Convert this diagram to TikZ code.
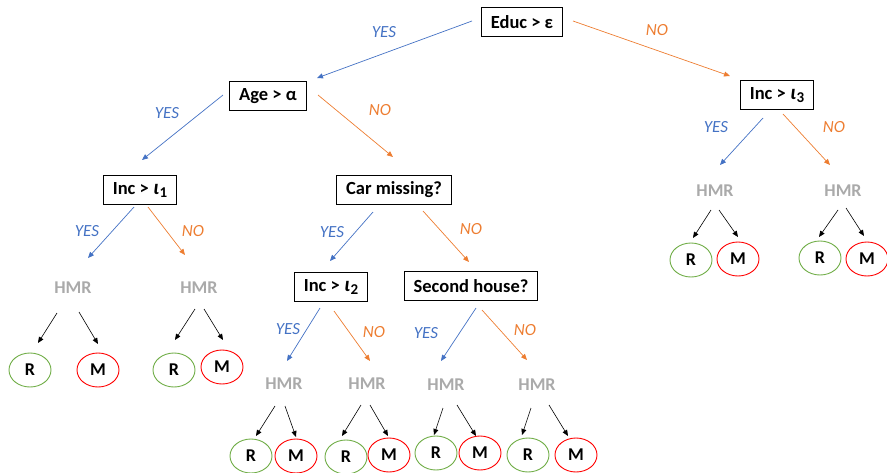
\documentclass[tikz,border=0pt]{standalone}
\usepackage{fontspec}
\setmainfont{Carlito}
\usetikzlibrary{arrows.meta,calc,shapes.geometric}
\definecolor{yesblue}{RGB}{68,114,196}
\definecolor{noorange}{RGB}{237,125,49}
\definecolor{hmrgray}{RGB}{170,170,170}
\definecolor{rgreen}{RGB}{112,173,71}
\definecolor{mred}{RGB}{255,0,0}
\newcommand{\subi}[1]{{\fontsize{21}{21}\selectfont\itshape ι}\kern0.5pt\raisebox{-0.4ex}{\fontsize{15}{15}\selectfont #1}}
\begin{document}
\begin{tikzpicture}[x=1pt,y=-1pt,
  base/.style={font=\fontsize{18}{20}\selectfont},
  testbox/.style={base,draw,line width=1.1pt,inner xsep=9.5pt,inner ysep=0pt,minimum height=29pt,font=\fontsize{18.5}{20}\selectfont\bfseries},
  hmr/.style={text=hmrgray,inner sep=0pt,font=\fontsize{18}{20}\selectfont\bfseries},
  leaf/.style={ellipse,draw,line width=0.9pt,minimum width=42pt,minimum height=34pt,inner sep=0pt,font=\fontsize{18}{20}\selectfont\bfseries},
  leafR/.style={leaf,draw=rgreen},
  leafM/.style={leaf,draw=mred},
  yeslab/.style={text=yesblue,inner sep=0pt,font=\fontsize{17}{20}\selectfont\itshape},
  nolab/.style={text=noorange,inner sep=0pt,font=\fontsize{17}{20}\selectfont\itshape},
  yesarr/.style={draw=yesblue,line width=0.7pt,-{Triangle[length=6pt,width=5pt]}},
  noarr/.style={draw=noorange,line width=0.7pt,-{Triangle[length=6pt,width=5pt]}},
  leafarr/.style={draw=black,line width=0.6pt,-{Triangle[length=6pt,width=5pt]}}
]
\useasboundingbox (0,0) rectangle (887,472);

% decision boxes
\node[testbox] (educ) at (522,22) {Educ > ε};
\node[testbox] (age)  at (268,96) {Age > α};
\node[testbox] (inc1) at (140,190) {Inc > \subi{1}};
\node[testbox] (car)  at (394,190) {Car missing?};
\node[testbox] (inc3) at (777,95) {Inc > \subi{3}};
\node[testbox] (inc2) at (331,287) {Inc > \subi{2}};
\node[testbox] (sec)  at (471,286) {Second house?};

% HMR labels
\node[hmr] (h1) at (73,288) {HMR};
\node[hmr] (h2) at (199,288) {HMR};
\node[hmr] (h3) at (284,384) {HMR};
\node[hmr] (h4) at (367,384) {HMR};
\node[hmr] (h5) at (446,385) {HMR};
\node[hmr] (h6) at (537,385) {HMR};
\node[hmr] (h7) at (715,191) {HMR};
\node[hmr] (h8) at (843,191) {HMR};

% leaves
\node[leafR] (r1) at (30,370) {R};
\node[leafM] (m1) at (98,370) {M};
\node[leafR] (r2) at (174,370) {R};
\node[leafM] (m2) at (222,367) {M};
\node[leafR] (r3) at (251,456) {R};
\node[leafM] (m3) at (296,456) {M};
\node[leafR] (r4) at (346,457) {R};
\node[leafM] (m4) at (389,455) {M};
\node[leafR] (r5) at (436,453) {R};
\node[leafM] (m5) at (480,453) {M};
\node[leafR] (r6) at (528,455) {R};
\node[leafM] (m6) at (576,455) {M};
\node[leafR] (r7) at (691,260) {R};
\node[leafM] (m7) at (738,259) {M};
\node[leafR] (r8) at (820,258) {R};
\node[leafM] (m8) at (867,259) {M};

% branch labels
\node[yeslab] (ly0) at (384,32) {YES};
\node[nolab]  (ln0) at (657,30) {NO};
\node[yeslab] (ly1) at (167,113) {YES};
\node[nolab]  (ln1) at (380,110) {NO};
\node[yeslab] (ly2) at (87,231) {YES};
\node[nolab]  (ln2) at (193,231) {NO};
\node[yeslab] (ly3) at (332,232) {YES};
\node[nolab]  (ln3) at (471,229) {NO};
\node[yeslab] (ly4) at (288,329) {YES};
\node[nolab]  (ln4) at (374,332) {NO};
\node[yeslab] (ly5) at (426,333) {YES};
\node[nolab]  (ln5) at (525,330) {NO};
\node[yeslab] (ly6) at (716,127) {YES};
\node[nolab]  (ln6) at (834,127) {NO};

% decision arrows
\draw[yesarr] ($(educ)+(-50,-1)$) -- ($(age)+(49,-18)$);
\draw[noarr]  ($(educ)+(51,-1)$) -- ($(inc3)+(-47,-19)$);
\draw[yesarr] ($(age)+(-45,-1)$) -- ($(inc1)+(2,-30)$);
\draw[noarr]  ($(age)+(50,-1)$) -- ($(car)+(-1,-33)$);
\draw[yesarr] ($(inc1)+(-6,17)$) -- ($(h1)+(15,-30)$);
\draw[noarr]  ($(inc1)+(8,17)$) -- ($(h2)+(-14,-33)$);
\draw[yesarr] ($(car)+(-21,22)$) -- ($(inc2)+(-1,-26)$);
\draw[noarr]  ($(car)+(29,21)$) -- ($(sec)+(-2,-24)$);
\draw[yesarr] ($(inc2)+(-11,21)$) -- ($(h3)+(3,-23)$);
\draw[noarr]  ($(inc2)+(3,24)$) -- ($(h4)+(3,-23)$);
\draw[yesarr] ($(sec)+(5,22)$) -- ($(h5)+(-5,-24)$);
\draw[noarr]  ($(sec)+(11,24)$) -- ($(h6)+(-10,-25)$);
\draw[yesarr] ($(inc3)+(-14,23)$) -- ($(h7)+(5,-26)$);
\draw[noarr]  ($(inc3)+(6,19)$) -- ($(h8)+(-13,-26)$);

% HMR to leaves
\draw[leafarr] ($(h1)+(-16,25)$) -- ($(r1)+(8,-27)$);
\draw[leafarr] ($(h1)+(6,24)$) -- ($(m1)+(0,-26)$);
\draw[leafarr] ($(h2)+(-4,21)$) -- ($(r2)+(1,-30)$);
\draw[leafarr] ($(h2)+(5,21)$) -- ($(m2)+(1,-27)$);
\draw[leafarr] ($(h3)+(-9,22)$) -- ($(r3)+(5,-20)$);
\draw[leafarr] ($(h3)+(1,22)$) -- ($(m3)+(0,-19)$);
\draw[leafarr] ($(h4)+(-6,21)$) -- ($(r4)+(-4,-21)$);
\draw[leafarr] ($(h4)+(3,21)$) -- ($(m4)+(-1,-19)$);
\draw[leafarr] ($(h5)+(-3,23)$) -- ($(r5)+(-2,-18)$);
\draw[leafarr] ($(h5)+(11,20)$) -- ($(m5)+(-4,-17)$);
\draw[leafarr] ($(h6)+(-6,23)$) -- ($(r6)+(-6,-20)$);
\draw[leafarr] ($(h6)+(12,20)$) -- ($(m6)+(-8,-19)$);
\draw[leafarr] ($(h7)+(-4,19)$) -- ($(r7)+(2,-22)$);
\draw[leafarr] ($(h7)+(4,19)$) -- ($(m7)+(0,-22)$);
\draw[leafarr] ($(h8)+(-5,19)$) -- ($(r8)+(-1,-21)$);
\draw[leafarr] ($(h8)+(3,17)$) -- ($(m8)+(-3,-23)$);
\end{tikzpicture}
\end{document}
